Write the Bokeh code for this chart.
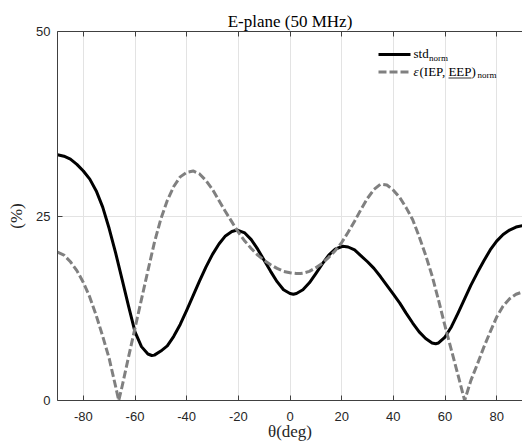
from bokeh.plotting import figure
from bokeh.models import Range1d, FixedTicker, LinearAxis, Label
from bokeh.embed import file_html
from bokeh.resources import INLINE

# ---- data ----
theta_std = [-90, -87.5, -85, -82.5, -80, -77.5, -75, -72.5, -70, -67.5, -65, -62.5, -60, -57.5, -55,
             -53.5, -52.5, -50, -47.5, -45, -42.5, -40, -37.5, -35, -32.5, -30, -27.5, -25, -22.5,
             -20.4, -17.5, -15, -12.5, -10, -7.5, -5, -2.5, 0, 1.3, 2.5, 5, 7.5, 10, 12.5, 15, 17.5,
             20.4, 22.5, 25, 27.5, 30, 32.5, 35, 37.5, 40, 42.5, 45, 47.5, 50, 52.5, 55, 56.4, 57.5,
             60, 62.5, 65, 67.5, 70, 72.5, 75, 77.5, 80, 82.5, 85, 87.5, 90]
std_norm = [33.3, 33.1, 32.7, 32.0, 31.1, 30.0, 28.4, 26.2, 23.3, 20.0, 16.4, 12.8, 9.3, 7.3, 6.3,
            6.1, 6.15, 6.7, 7.4, 8.7, 10.3, 12.2, 14.2, 16.2, 18.1, 19.8, 21.2, 22.3, 22.9,
            23.1, 22.7, 21.8, 20.5, 19.0, 17.5, 16.1, 15.0, 14.5, 14.4, 14.5, 15.0, 15.95, 17.2, 18.5, 19.7, 20.5,
            20.9, 20.8, 20.4, 19.6, 18.8, 17.9, 16.8, 15.6, 14.4, 13.2, 11.8, 10.5, 9.3, 8.4, 7.8, 7.7, 7.8,
            8.6, 10.0, 11.8, 13.7, 15.6, 17.3, 18.9, 20.4, 21.6, 22.5, 23.1, 23.5, 23.7]

theta_eps = [-90, -87.5, -85, -82.5, -80, -77.5, -75, -72.5, -70, -67.5, -66.3, -65, -62.5, -60,
             -57.5, -55, -52.5, -50, -47.5, -45, -42.5, -40, -37.5, -35, -32.5, -30, -27.5, -25,
             -22.5, -20, -17.5, -15, -12.5, -10, -7.5, -5, -2.5, 0, 2.5, 4, 5, 7.5, 10, 12.5, 15,
             17.5, 20, 22.5, 25, 27.5, 30, 32.5, 35, 37.5, 40, 42.5, 45, 47.5, 50, 52.5, 55, 57.5,
             60, 62.5, 65, 67.6, 70, 72.5, 75, 77.5, 80, 82.5, 85, 87.5, 90]
eps_norm = [20.1, 19.7, 18.8, 17.6, 16.0, 14.0, 11.5, 8.7, 5.7, 1.9, 0.0, 1.9, 5.9, 9.8,
            13.7, 17.6, 21.4, 24.6, 27.1, 29.0, 30.3, 30.9, 31.1, 30.7, 29.8, 28.6, 27.1, 25.6,
            24.2, 22.8, 21.6, 20.6, 19.7, 19.0, 18.4, 17.9, 17.5, 17.3, 17.2, 17.2, 17.25, 17.5, 18.0, 18.6, 19.4,
            20.3, 21.4, 22.8, 24.3, 25.9, 27.4, 28.6, 29.3, 29.2, 28.5, 27.5, 26.1, 24.5, 22.2, 19.7, 16.9, 13.6,
            10.1, 6.8, 3.5, 0.0, 2.7, 4.9, 7.2, 9.3, 11.3, 12.8, 13.8, 14.4, 14.7]

x_ticks = [-80, -60, -40, -20, 0, 20, 40, 60, 80]
y_ticks = [0, 25, 50]

title_text = "E-plane (50 MHz)"
xlabel = "θ(deg)"
ylabel = "(%)"

SERIF = "Liberation Serif"
SANS = "Liberation Sans"
AX = "#404040"

p = figure(width=522, height=445, output_backend="svg", toolbar_location=None,
           x_range=Range1d(-90, 90), y_range=Range1d(0, 50),
           min_border_left=57, min_border_right=0, min_border_top=31, min_border_bottom=45,
           x_axis_location="below", y_axis_location="left")
p.outline_line_color = None
p.background_fill_color = "white"
p.border_fill_color = "white"

p.title.text = title_text
p.title.text_font = SERIF
p.title.text_font_size = "17px"
p.title.text_font_style = "normal"
p.title.align = "center"
p.title.text_color = "black"
p.title.standoff = 2

for ax, ticks in ((p.xaxis[0], x_ticks), (p.yaxis[0], y_ticks)):
    ax.ticker = FixedTicker(ticks=ticks)
    ax.major_label_overrides = {t: str(t) for t in ticks}
    ax.major_tick_in = 5
    ax.major_tick_out = 0
    ax.minor_tick_in = 0
    ax.minor_tick_out = 0
    ax.axis_line_color = AX
    ax.major_tick_line_color = AX
    ax.major_label_text_font = SANS
    ax.major_label_text_font_size = "13px"
    ax.major_label_text_color = "#262626"
    ax.axis_label_text_font = SERIF
    ax.axis_label_text_font_size = "17px"
    ax.axis_label_text_font_style = "normal"
    ax.axis_label_text_color = "#262626"

p.xaxis[0].axis_label = xlabel
p.xaxis[0].major_label_standoff = 11
p.xaxis[0].axis_label_standoff = -2
p.yaxis[0].axis_label = ylabel
p.yaxis[0].major_label_standoff = 7
p.yaxis[0].axis_label_standoff = 7

top = LinearAxis(ticker=FixedTicker(ticks=x_ticks),
                 major_label_overrides={t: "" for t in x_ticks},
                 major_tick_in=5, major_tick_out=0, minor_tick_in=0, minor_tick_out=0,
                 axis_line_color=AX, major_tick_line_color=AX, major_label_standoff=0)
p.add_layout(top, "above")

p.xgrid.ticker = FixedTicker(ticks=x_ticks)
p.ygrid.ticker = FixedTicker(ticks=y_ticks)
p.grid.grid_line_color = "#e3e3e3"
p.grid.grid_line_width = 1

p.line(theta_std, std_norm, line_color="black", line_width=3, line_join="round")
p.line(theta_eps, eps_norm, line_color="#808080", line_width=3, line_dash="8 3", line_join="round")

# ---- legend (manual, positioned in pixels of the frame) ----
def sx(px):
    return -90 + (px - 57) * 180.0 / 465.0

def sy(py):
    return (400 - py) * 50.0 / 369.0

p.segment(x0=[sx(378)], y0=[sy(54)], x1=[sx(410)], y1=[sy(54)], line_color="black", line_width=3)
p.segment(x0=[sx(378)], y0=[sy(71.5)], x1=[sx(410)], y1=[sy(71.5)], line_color="#808080",
          line_width=3, line_dash="8 3")

def lab(px, py, txt, size, style="normal"):
    p.add_layout(Label(x=sx(px), y=sy(py), text=txt, text_font=SERIF, text_font_size=size,
                       text_font_style=style, text_baseline="middle", text_align="left",
                       text_color="black"))

lab(413, 53, "std", "13px")
lab(428.5, 57, "norm", "9px")
lab(413, 70.5, "ε", "13px", "italic")
lab(419, 70.5, "(IEP, EEP)", "13px")
lab(477, 74.5, "norm", "9px")
p.segment(x0=[sx(448)], y0=[sy(77.5)], x1=[sx(471)], y1=[sy(77.5)], line_color="#777777", line_width=1.3)

open("out.html", "w").write(file_html(p, INLINE))
